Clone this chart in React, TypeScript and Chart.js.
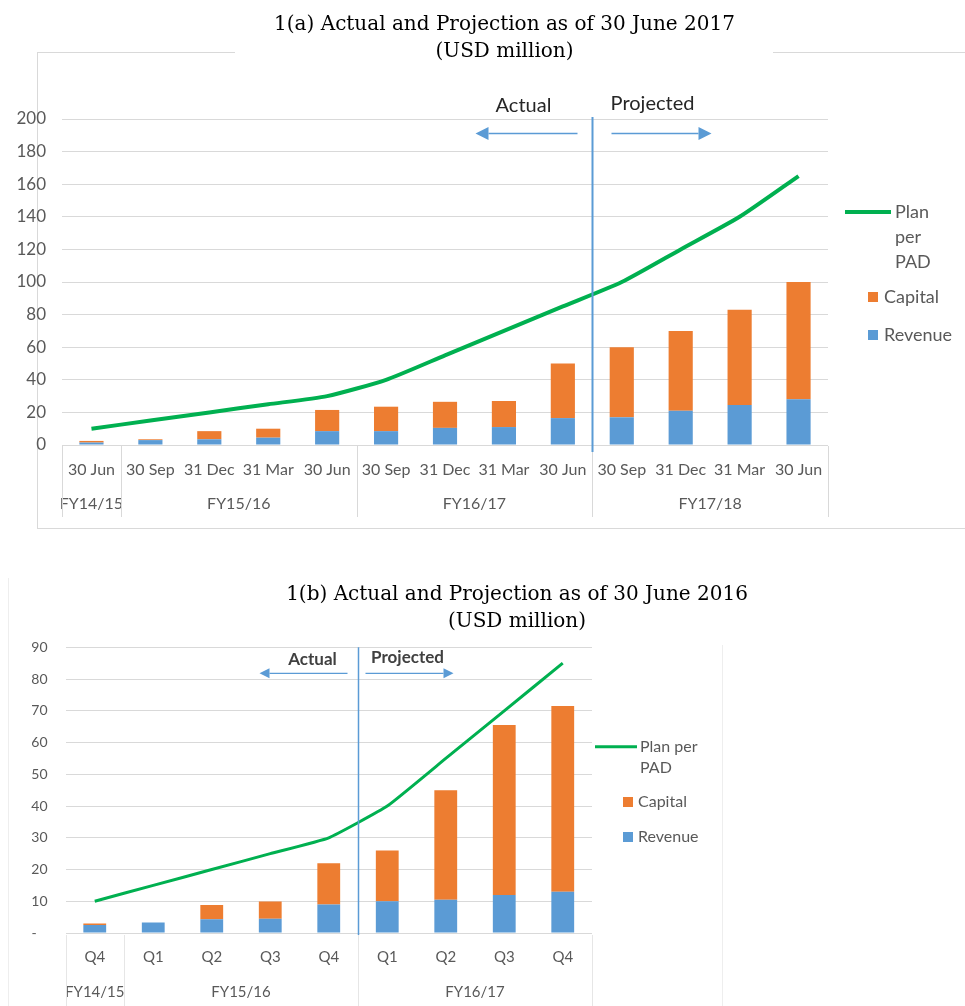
import React, { useEffect, useRef } from 'react';
import { Chart, registerables } from 'chart.js';

Chart.register(...registerables);

const SANS = "Lato, 'Open Sans', sans-serif";
const SERIF = "'DejaVu Serif', 'Liberation Serif', serif";
const ORANGE = '#ed7d31';
const BLUE = '#5b9bd5';
const GREEN = '#00b050';
const GRID = '#d9d9d9';
const TEXT = '#595959';

// ---------- Chart 1(a) data ----------
const titleA = ['1(a) Actual and Projection as of 30 June 2017', '(USD million)'];
const categoriesA = ['30 Jun', '30 Sep', '31 Dec', '31 Mar', '30 Jun', '30 Sep', '31 Dec', '31 Mar', '30 Jun', '30 Sep', '31 Dec', '31 Mar', '30 Jun'];
const fiscalYearsA = ['FY14/15', 'FY15/16', 'FY16/17', 'FY17/18'];
const fiscalYearSpansA = [1, 4, 4, 4];
const revenueA = [1.5, 3, 3.5, 4.5, 8.5, 8.5, 10.5, 11, 16.5, 17, 21, 24.5, 28];
const capitalA = [1, 0.5, 5, 5.5, 13, 15, 16, 16, 33.5, 43, 49, 58.5, 72];
const planA = [10, 15, 20, 25, 30, 40, 55, 70, 85, 100, 120, 140, 165];
const projectionStartA = 9;
const yMaxA = 200;
const yStepA = 20;

// ---------- Chart 1(b) data ----------
const titleB = ['1(b) Actual and Projection as of 30 June 2016', '(USD million)'];
const categoriesB = ['Q4', 'Q1', 'Q2', 'Q3', 'Q4', 'Q1', 'Q2', 'Q3', 'Q4'];
const fiscalYearsB = ['FY14/15', 'FY15/16', 'FY16/17'];
const fiscalYearSpansB = [1, 4, 4];
const revenueB = [2.5, 3.3, 4.3, 4.5, 9, 10, 10.5, 12, 13];
const capitalB = [0.5, 0, 4.5, 5.4, 13, 16, 34.5, 53.5, 58.5];
const planB = [10, 15, 20, 25, 30, 40, 55, 70, 85];
const projectionStartB = 5;
const yMaxB = 90;
const yStepB = 10;

const seriesNames = { plan: 'Plan per PAD', capital: 'Capital', revenue: 'Revenue' };
const markerTexts = { actual: 'Actual', projected: 'Projected' };

function wrapText(ctx: CanvasRenderingContext2D, text: string, maxWidth: number): string[] {
  const words = text.split(' ');
  const lines: string[] = [];
  let cur = '';
  for (const w of words) {
    const t = cur ? cur + ' ' + w : w;
    if (cur && ctx.measureText(t).width > maxWidth) {
      lines.push(cur);
      cur = w;
    } else cur = t;
  }
  if (cur) lines.push(cur);
  return lines;
}

function drawArrow(ctx: CanvasRenderingContext2D, x1: number, x2: number, y: number, head: number, half: number) {
  const s = Math.sign(x2 - x1);
  ctx.beginPath();
  ctx.moveTo(x1, y);
  ctx.lineTo(x2 - s * head, y);
  ctx.stroke();
  ctx.beginPath();
  ctx.moveTo(x2, y);
  ctx.lineTo(x2 - s * head, y - half);
  ctx.lineTo(x2 - s * head, y + half);
  ctx.closePath();
  ctx.fill();
}

const decorations = {
  id: 'decorations',
  beforeDraw(chart: any, _a: any, o: any) {
    const ctx = chart.ctx as CanvasRenderingContext2D;
    ctx.save();
    ctx.strokeStyle = o.frameColor;
    ctx.lineWidth = 1;
    for (const [x1, y1, x2, y2] of o.frame) {
      ctx.beginPath();
      ctx.moveTo(x1, y1);
      ctx.lineTo(x2, y2);
      ctx.stroke();
    }
    ctx.restore();
  },
  afterDraw(chart: any, _a: any, o: any) {
    const ctx = chart.ctx as CanvasRenderingContext2D;
    const x = chart.scales.x;
    const area = chart.chartArea;
    ctx.save();

    // title
    ctx.fillStyle = '#000';
    ctx.font = `${o.titleSize}px ${SERIF}`;
    ctx.textAlign = 'center';
    ctx.textBaseline = 'middle';
    o.title.forEach((t: string, i: number) => ctx.fillText(t, o.titleX, o.titleY[i]));

    // category group labels and separators
    const half = (x.getPixelForValue(1) - x.getPixelForValue(0)) / 2;
    const edge = (i: number) => x.getPixelForValue(i) - half;
    const bounds: number[] = [edge(0)];
    ctx.font = `${o.groupSize}px ${SANS}`;
    ctx.fillStyle = TEXT;
    let idx = 0;
    o.groups.forEach((g: string, gi: number) => {
      const l = edge(idx);
      idx += o.spans[gi];
      const r = edge(idx);
      ctx.fillText(g, (l + r) / 2, o.groupY);
      bounds.push(r);
    });
    ctx.strokeStyle = o.sepColor;
    ctx.lineWidth = 1;
    bounds.forEach((b) => {
      const bx = Math.round(b) + 0.5;
      ctx.beginPath();
      ctx.moveTo(bx, o.sepTop);
      ctx.lineTo(bx, o.sepBottom);
      ctx.stroke();
    });

    // actual / projected divider
    const dx = Math.round(edge(o.projStart)) + 0.5;
    ctx.strokeStyle = BLUE;
    ctx.lineWidth = o.dividerWidth;
    ctx.beginPath();
    ctx.moveTo(dx, area.top - o.dividerExt);
    ctx.lineTo(dx, o.dividerBottom);
    ctx.stroke();

    ctx.fillStyle = o.markColor;
    ctx.font = `${o.markWeight} ${o.markSize}px ${SANS}`;
    ctx.textBaseline = 'alphabetic';
    ctx.fillText(markerTexts.actual, dx + o.actualDx, o.actualY);
    ctx.fillText(markerTexts.projected, dx + o.projDx, o.projY);

    ctx.strokeStyle = BLUE;
    ctx.fillStyle = BLUE;
    ctx.lineWidth = o.arrowWidth;
    drawArrow(ctx, dx + o.leftArrow[0], dx + o.leftArrow[1], o.arrowY, o.head, o.headHalf);
    drawArrow(ctx, dx + o.rightArrow[0], dx + o.rightArrow[1], o.arrowY, o.head, o.headHalf);

    // legend
    const ds = chart.data.datasets;
    const plan = ds.find((d: any) => d.label === seriesNames.plan);
    const cap = ds.find((d: any) => d.label === seriesNames.capital);
    const rev = ds.find((d: any) => d.label === seriesNames.revenue);
    const L = o.legend;
    ctx.font = `${L.size}px ${SANS}`;
    ctx.textAlign = 'left';
    ctx.textBaseline = 'middle';
    ctx.strokeStyle = plan.borderColor;
    ctx.lineWidth = plan.borderWidth;
    ctx.beginPath();
    ctx.moveTo(L.lineX[0], L.lineY);
    ctx.lineTo(L.lineX[1], L.lineY);
    ctx.stroke();
    ctx.fillStyle = TEXT;
    wrapText(ctx, plan.label, L.wrap).forEach((t, i) => ctx.fillText(t, L.lineTextX, L.lineY + i * L.lineH));
    [[cap, L.capY], [rev, L.revY]].forEach(([d, y]: any) => {
      ctx.fillStyle = d.backgroundColor;
      ctx.fillRect(L.boxX, y - L.box / 2, L.box, L.box);
      ctx.fillStyle = TEXT;
      ctx.fillText(d.label, L.boxTextX, y);
    });
    ctx.restore();
  },
};

function buildConfig(p: any): any {
  return {
    type: 'bar',
    data: {
      labels: p.categories,
      datasets: [
        {
          type: 'line',
          label: seriesNames.plan,
          data: p.plan,
          borderColor: GREEN,
          backgroundColor: GREEN,
          borderWidth: p.lineWidth,
          pointRadius: 0,
          tension: p.tension,
          fill: false,
          order: 0,
          stack: 'plan',
        },
        {
          label: seriesNames.revenue,
          data: p.revenue,
          backgroundColor: BLUE,
          barPercentage: p.barPct,
          categoryPercentage: 1,
          order: 1,
          stack: 'spend',
        },
        {
          label: seriesNames.capital,
          data: p.capital,
          backgroundColor: ORANGE,
          barPercentage: p.barPct,
          categoryPercentage: 1,
          order: 1,
          stack: 'spend',
        },
      ],
    },
    options: {
      animation: false,
      responsive: false,
      devicePixelRatio: 1,
      events: [],
      layout: { padding: p.padding },
      plugins: {
        legend: { display: false },
        tooltip: { enabled: false },
        title: { display: false },
        decorations: p.deco,
      },
      scales: {
        x: {
          stacked: true,
          grid: { display: false, drawTicks: false },
          border: { display: false },
          ticks: { color: TEXT, font: { family: SANS, size: p.xFont }, padding: p.xPad, maxRotation: 0, autoSkip: false },
          afterFit: (s: any) => { s.height = p.xHeight; },
        },
        y: {
          stacked: true,
          min: 0,
          max: p.yMax,
          grid: { color: GRID, drawTicks: false },
          border: { display: false },
          ticks: {
            stepSize: p.yStep,
            color: TEXT,
            font: { family: SANS, size: p.yFont },
            padding: p.yPad,
            callback: p.yCallback,
          },
          afterFit: (s: any) => { s.width = p.yWidth; },
        },
      },
    },
    plugins: [decorations],
  };
}

const configA = () =>
  buildConfig({
    categories: categoriesA,
    plan: planA,
    revenue: revenueA,
    capital: capitalA,
    lineWidth: 4,
    tension: 0.2,
    barPct: 0.41,
    padding: { top: 119, right: 137, left: 0, bottom: 0 },
    xFont: 16,
    xPad: 15,
    xHeight: 95,
    yMax: yMaxA,
    yStep: yStepA,
    yFont: 17,
    yPad: 16,
    yWidth: 62,
    yCallback: (v: any) => v,
    deco: {
      frameColor: '#d9d9d9',
      frame: [[37, 52.5, 235, 52.5], [773, 52.5, 965, 52.5], [37.5, 52, 37.5, 528], [37, 528.5, 965, 528.5]],
      title: titleA,
      titleSize: 20,
      titleX: 504.5,
      titleY: [25, 52],
      groups: fiscalYearsA,
      spans: fiscalYearSpansA,
      groupSize: 16,
      groupY: 504,
      sepColor: '#d9d9d9',
      sepTop: 446,
      sepBottom: 517,
      projStart: projectionStartA,
      dividerWidth: 2,
      dividerExt: 2,
      dividerBottom: 452,
      markColor: '#262626',
      markWeight: 'normal',
      markSize: 20,
      actualDx: -69,
      actualY: 112,
      projDx: 60,
      projY: 110,
      arrowWidth: 1.5,
      arrowY: 133.5,
      leftArrow: [-15, -117],
      rightArrow: [19, 119],
      head: 13,
      headHalf: 6.5,
      legend: {
        size: 18,
        lineX: [845, 891],
        lineY: 212,
        lineTextX: 895,
        lineH: 25,
        wrap: 56,
        box: 10,
        boxX: 868,
        boxTextX: 884,
        capY: 297,
        revY: 335,
      },
    },
  });

const configB = () =>
  buildConfig({
    categories: categoriesB,
    plan: planB,
    revenue: revenueB,
    capital: capitalB,
    lineWidth: 3,
    tension: 0.12,
    barPct: 0.39,
    padding: { top: 107.3, right: 373, left: 0, bottom: 0 },
    xFont: 15,
    xPad: 15.5,
    xHeight: 73,
    yMax: yMaxB,
    yStep: yStepB,
    yFont: 14,
    yPad: 18,
    yWidth: 65.5,
    yCallback: (v: any) => (v === 0 ? '-   ' : v),
    deco: {
      frameColor: '#eeeeee',
      frame: [[8.5, 38, 8.5, 466], [722.5, 105, 722.5, 466]],
      title: titleB,
      titleSize: 20,
      titleX: 517,
      titleY: [55, 82],
      groups: fiscalYearsB,
      spans: fiscalYearSpansB,
      groupSize: 15,
      groupY: 452.5,
      sepColor: '#e6e6e6',
      sepTop: 395,
      sepBottom: 466,
      projStart: projectionStartB,
      dividerWidth: 1.5,
      dividerExt: 0,
      dividerBottom: 395,
      markColor: '#404040',
      markWeight: 'bold',
      markSize: 17,
      actualDx: -46,
      actualY: 125,
      projDx: 49,
      projY: 123,
      arrowWidth: 1.2,
      arrowY: 133.3,
      leftArrow: [-11, -99],
      rightArrow: [7, 95],
      head: 10,
      headHalf: 5,
      legend: {
        size: 16,
        lineX: [595, 637],
        lineY: 206.7,
        lineTextX: 640,
        lineH: 21.5,
        wrap: 75,
        box: 10,
        boxX: 623,
        boxTextX: 638,
        capY: 262,
        revY: 297,
      },
    },
  });

function ChartCanvas({ build, width, height, top }: { build: () => any; width: number; height: number; top: number }) {
  const ref = useRef<HTMLCanvasElement>(null);
  useEffect(() => {
    const chart = new Chart(ref.current as HTMLCanvasElement, build());
    return () => chart.destroy();
  }, [build]);
  return (
    <canvas
      ref={ref}
      width={width}
      height={height}
      style={{ position: 'absolute', left: 0, top, width, height, display: 'block' }}
    />
  );
}

export default function App() {
  return (
    <div style={{ position: 'absolute', left: 0, top: 0, width: 965, height: 1006, background: '#fff', overflow: 'hidden' }}>
      <ChartCanvas build={configA} width={965} height={540} top={0} />
      <ChartCanvas build={configB} width={965} height={466} top={540} />
    </div>
  );
}
